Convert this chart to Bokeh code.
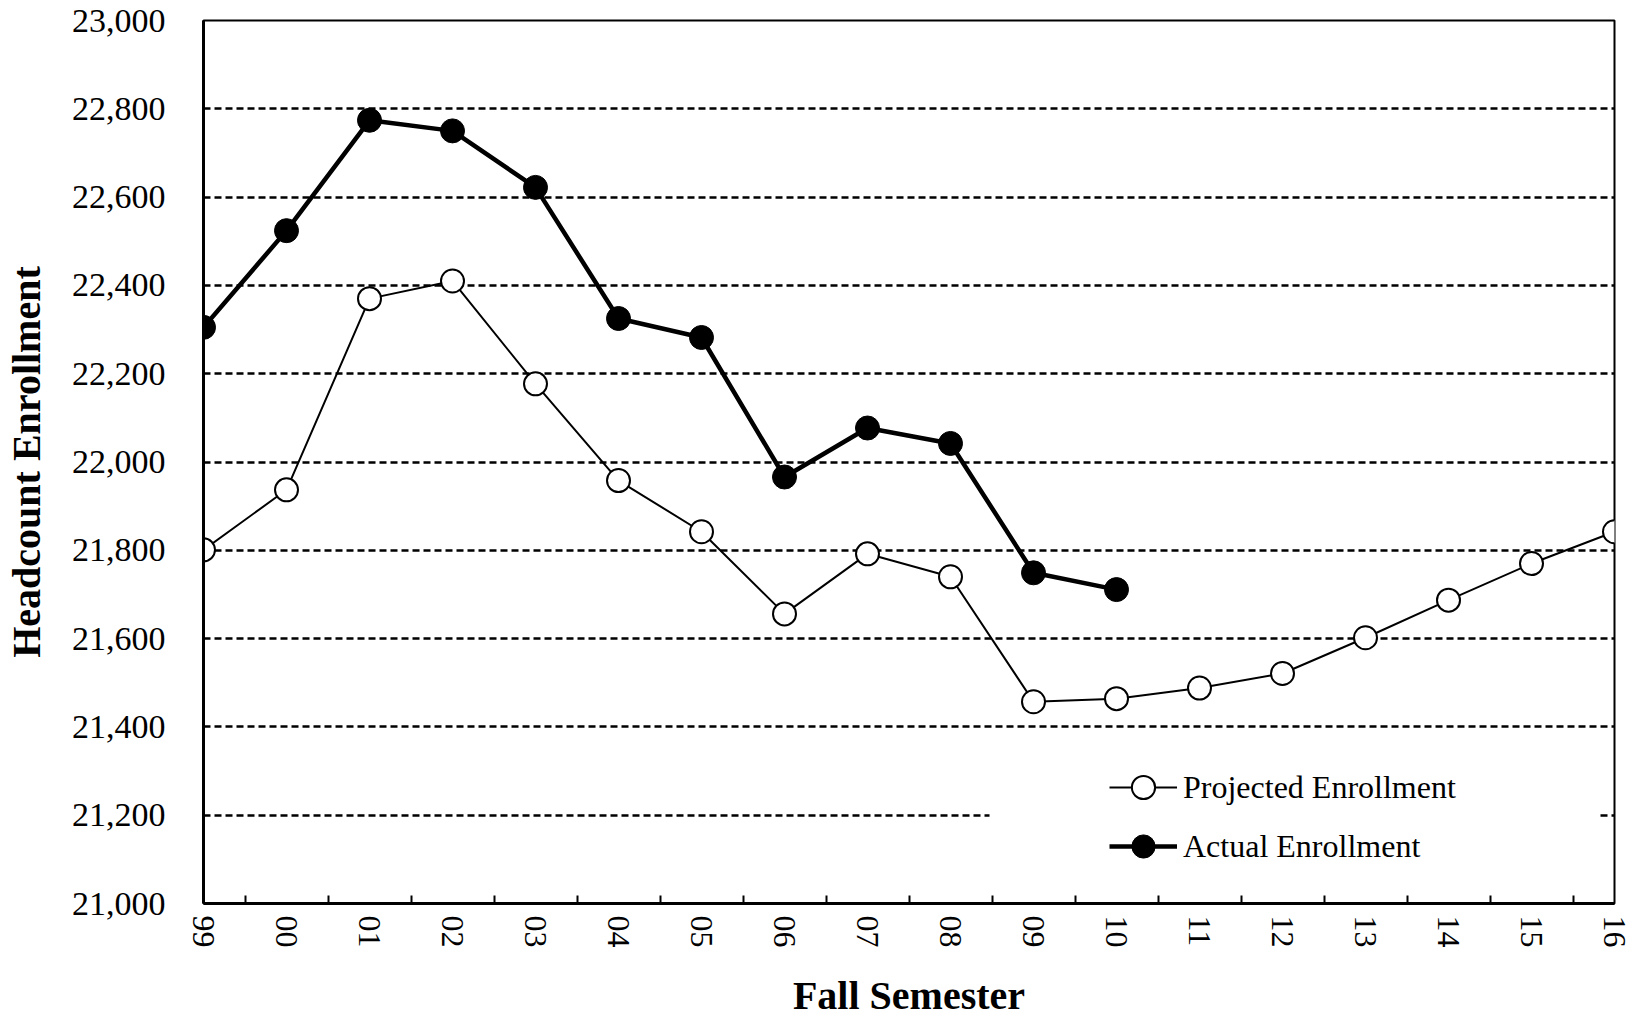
from bokeh.plotting import figure
from bokeh.models import (Range1d, FixedTicker, NumeralTickFormatter, LinearAxis,
                          Legend, LegendItem, BoxAnnotation, ColumnDataSource)
from bokeh.embed import file_html
from bokeh.resources import INLINE

# ---- data ----
years = ["99", "00", "01", "02", "03", "04", "05", "06", "07", "08",
         "09", "10", "11", "12", "13", "14", "15", "16"]
projected = [21801, 21937, 22370, 22410, 22177, 21958, 21842, 21656, 21792, 21740,
             21457, 21464, 21488, 21521, 21602, 21687, 21770, 21842]
actual = [22305, 22524, 22774, 22750, 22622, 22325, 22282, 21966, 22077, 22042,
          21749, 21711]
y_ticks = list(range(21000, 23001, 200))

FONT = "Liberation Serif"

xs = list(range(len(years)))
src_proj = ColumnDataSource(dict(x=xs, y=projected))
src_act = ColumnDataSource(dict(x=xs[:len(actual)], y=actual))

p = figure(frame_width=1411, frame_height=883,
           x_range=Range1d(0, len(years) - 1), y_range=Range1d(21000, 23000),
           output_backend="svg", toolbar_location=None, x_axis_location=None,
           min_border_left=196, min_border_right=23, min_border_top=20,
           min_border_bottom=104, background_fill_color="white",
           border_fill_color="white")
p.outline_line_color = "black"
p.outline_line_width = 2
p.outline_line_alpha = 1

# y axis
yt = FixedTicker(ticks=y_ticks)
p.yaxis.ticker = yt
p.yaxis.formatter = NumeralTickFormatter(format="0,0")
p.yaxis.major_tick_line_color = None
p.yaxis.minor_tick_line_color = None
p.yaxis.axis_line_width = 3
p.yaxis.axis_line_color = "black"
p.yaxis.major_label_standoff = 32
p.yaxis.major_label_text_font = FONT
p.yaxis.major_label_text_font_size = "34px"
p.yaxis.major_label_text_color = "black"
p.yaxis.axis_label = "Headcount Enrollment"
p.yaxis.axis_label_text_font = FONT
p.yaxis.axis_label_text_font_style = "bold"
p.yaxis.axis_label_text_font_size = "40px"
p.yaxis.axis_label_text_color = "black"
p.yaxis.axis_label_standoff = 20

p.ygrid.ticker = yt
p.ygrid.grid_line_color = "black"
p.ygrid.grid_line_width = 2.5
p.ygrid.grid_line_dash = "7 4"
p.xgrid.visible = False

# x axis: labels on categories, tick marks (minor) between categories
xaxis = LinearAxis(ticker=FixedTicker(ticks=xs, minor_ticks=[i + 0.5 for i in xs[:-1]]),
                   major_label_overrides={i: y for i, y in zip(xs, years)},
                   axis_line_width=3, axis_line_color="black",
                   major_tick_line_color=None,
                   minor_tick_in=8, minor_tick_out=0, minor_tick_line_width=2,
                   minor_tick_line_color="black",
                   major_tick_in=0, major_tick_out=0,
                   major_label_orientation="vertical",
                   major_label_standoff=12,
                   major_label_text_font=FONT,
                   major_label_text_font_size="32px",
                   major_label_text_color="black",
                   axis_label="Fall Semester",
                   axis_label_text_font=FONT,
                   axis_label_text_font_style="bold",
                   axis_label_text_font_size="40px",
                   axis_label_text_color="black",
                   axis_label_standoff=22)
p.add_layout(xaxis, "below")

# series
r_pl = p.line("x", "y", source=src_proj, line_color="black", line_width=2)
r_ps = p.scatter("x", "y", source=src_proj, size=23, marker="circle",
                 fill_color="white", line_color="black", line_width=2)
r_al = p.line("x", "y", source=src_act, line_color="black", line_width=4.5)
r_as = p.scatter("x", "y", source=src_act, size=24, marker="circle",
                 fill_color="black", line_color="black")

# white background behind legend (covers part of gridline)
p.add_layout(BoxAnnotation(left=9.47, right=16.81, bottom=21090, top=21330,
                           fill_color="white", fill_alpha=1, line_color=None))

legend = Legend(items=[LegendItem(label="Projected Enrollment", renderers=[r_pl, r_ps]),
                       LegendItem(label="Actual Enrollment", renderers=[r_al, r_as])],
                location=(906, 28), orientation="vertical",
                background_fill_alpha=0, border_line_color=None,
                padding=6, spacing=1, glyph_width=68, glyph_height=58,
                label_height=58, label_standoff=6,
                label_text_font=FONT, label_text_font_size="32px",
                label_text_color="black")
p.add_layout(legend)

open("out.html", "w").write(file_html(p, INLINE))
